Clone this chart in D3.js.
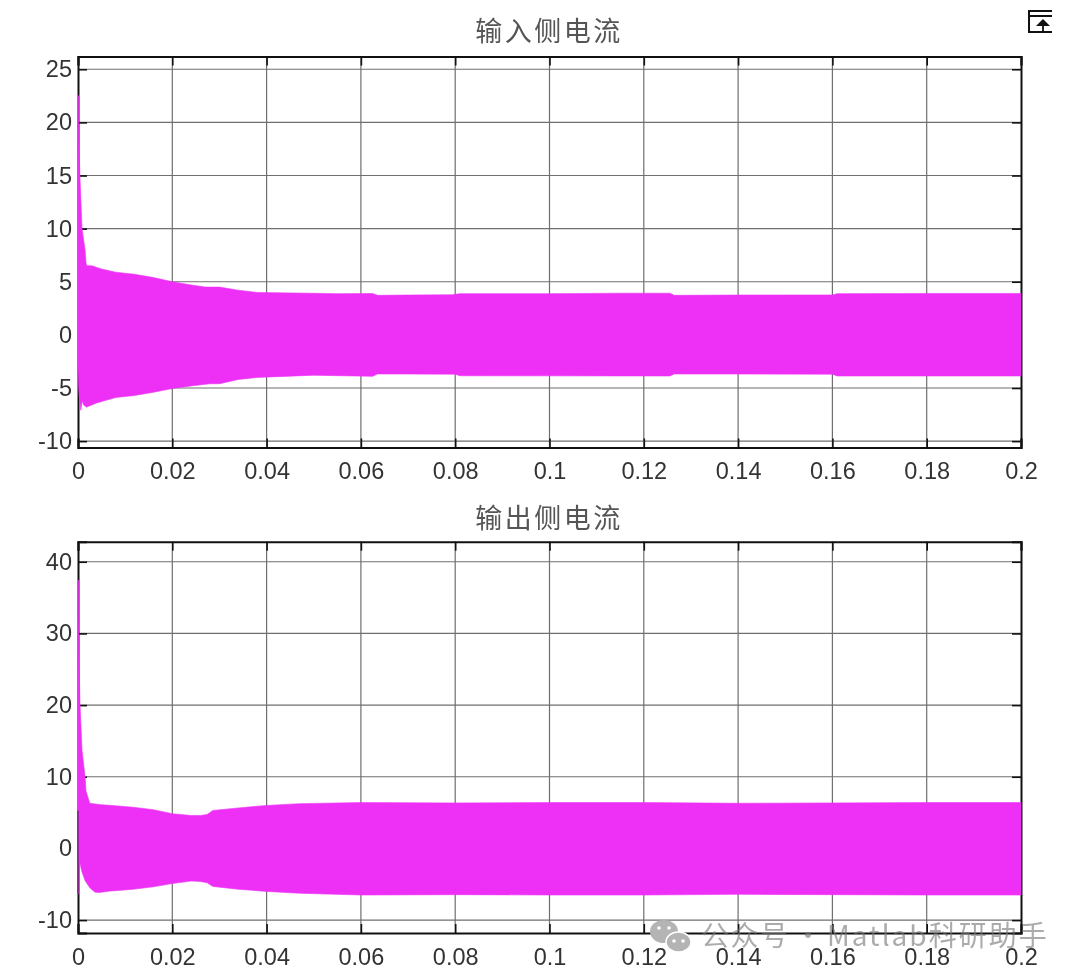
<!DOCTYPE html>
<html>
<head>
<meta charset="utf-8">
<script src="https://cdn.jsdelivr.net/npm/d3@7"></script>
<style>
html,body{margin:0;padding:0;background:#fff}
svg{display:block;filter:blur(0.7px)}
text{font-family:"Liberation Sans",Arial,sans-serif;fill:#333}
.cjk{font-family:"Noto Sans CJK SC","Noto Sans",sans-serif}
</style>
</head>
<body>
<svg id="c" width="1080" height="980"></svg>
<script>
// time axis tick values
const xTickValues = [0,0.02,0.04,0.06,0.08,0.1,0.12,0.14,0.16,0.18,0.2];
const xTickLabels = ["0","0.02","0.04","0.06","0.08","0.1","0.12","0.14","0.16","0.18","0.2"];

// Panel 1: input-side current envelope
const inputTitle = "输入侧电流";
const inputYTicks = [-10,-5,0,5,10,15,20,25];
const inputUpperT = [0,0.00012,0.0002,0.0004,0.00085,0.0015,0.0017,0.0019,0.003,0.005,0.008,0.012,0.016,0.02,0.024,0.027,0.0285,0.03,0.034,0.038,0.045,0.055,0.0625,0.0635,0.07,0.0795,0.081,0.1,0.115,0.1255,0.1265,0.14,0.16,0.161,0.18,0.2];
const inputUpperV = [22.5,22.5,18,15,10,8,6.8,6.5,6.5,6.2,5.9,5.7,5.4,5.0,4.7,4.5,4.5,4.5,4.2,4.0,3.95,3.88,3.9,3.72,3.75,3.78,3.88,3.88,3.92,3.92,3.72,3.75,3.76,3.88,3.9,3.9];
const inputLowerT = [0,0.0002,0.0006,0.0009,0.0012,0.0018,0.004,0.008,0.012,0.016,0.02,0.024,0.028,0.03,0.034,0.038,0.05,0.0625,0.0635,0.08,0.081,0.1255,0.1265,0.16,0.161,0.2];
const inputLowerV = [-3.2,-5.5,-7.1,-6.2,-6.6,-6.8,-6.4,-5.9,-5.7,-5.4,-5.05,-4.8,-4.6,-4.6,-4.2,-4.0,-3.8,-3.9,-3.68,-3.7,-3.85,-3.87,-3.68,-3.7,-3.87,-3.87];

// Panel 2: output-side current envelope
const outputTitle = "输出侧电流";
const outputYTicks = [-10,0,10,20,30,40];
const outputUpperT = [0,0.00012,0.0002,0.0004,0.00085,0.0015,0.0017,0.0025,0.005,0.008,0.0117,0.016,0.02,0.024,0.026,0.0274,0.0286,0.034,0.04,0.047,0.06,0.08,0.1,0.12,0.14,0.16,0.18,0.2];
const outputUpperV = [37.4,37.4,27,20.6,13.7,10,8,6.3,6.1,5.95,5.75,5.4,4.85,4.6,4.6,4.75,5.3,5.65,6.0,6.25,6.4,6.35,6.4,6.4,6.3,6.35,6.4,6.4];
const outputLowerT = [0,0.00012,0.0002,0.0004,0.0008,0.0015,0.0025,0.0036,0.0045,0.0068,0.0117,0.016,0.02,0.024,0.026,0.0274,0.0286,0.034,0.04,0.047,0.06,0.08,0.1,0.12,0.14,0.16,0.18,0.2];
const outputLowerV = [-6.3,-6.3,-1,-2,-3.2,-4.5,-5.5,-6.1,-6.15,-5.95,-5.7,-5.35,-4.9,-4.55,-4.6,-4.8,-5.3,-5.7,-6.0,-6.25,-6.5,-6.45,-6.5,-6.5,-6.4,-6.45,-6.5,-6.5];
// stretch of the left spine that shows through the band in panel 2
const outputSpineShow = [5.3,-6.3];

const bandColor = "#ee30f6";
const svg = d3.select("#c");
const x = d3.scaleLinear().domain([0,0.2]).range([78,1021]);

function merge(ut,uv,lt,lv){
  const all = Array.from(new Set([...ut,...lt])).sort(d3.ascending);
  const iu = d3.scaleLinear().domain(ut).range(uv);
  const il = d3.scaleLinear().domain(lt).range(lv);
  return all.map(t=>({t,u:iu(t),l:il(t)}));
}

function panel(cfg){
  const y = d3.scaleLinear().domain(cfg.domain).range(cfg.range);
  const g = svg.append("g");
  const top = cfg.range[1], bottom = cfg.range[0];

  // solid grey grid
  g.append("g").selectAll("line").data(xTickValues.slice(1,-1)).join("line")
    .attr("x1",d=>x(d)).attr("x2",d=>x(d)).attr("y1",top).attr("y2",bottom)
    .attr("stroke","#6f6f6f").attr("stroke-width",1.2);
  g.append("g").selectAll("line").data(cfg.ticks).join("line")
    .attr("x1",78).attr("x2",1021).attr("y1",d=>y(d)).attr("y2",d=>y(d))
    .attr("stroke","#6f6f6f").attr("stroke-width",1.2);

  // four-sided axes with inward ticks
  const fmt = d=>xTickLabels[xTickValues.indexOf(d)];
  const bx = g.append("g").attr("transform",`translate(0,${bottom})`)
    .call(d3.axisBottom(x).tickValues(xTickValues).tickFormat(fmt).tickSize(-9).tickPadding(15));
  const tx = g.append("g").attr("transform",`translate(0,${top})`)
    .call(d3.axisTop(x).tickValues(xTickValues).tickFormat("").tickSize(-9));
  const ly = g.append("g").attr("transform","translate(78,0)")
    .call(d3.axisLeft(y).tickValues(cfg.ticks).tickFormat(d=>String(d)).tickSize(-9).tickPadding(6));
  const ry = g.append("g").attr("transform","translate(1021,0)")
    .call(d3.axisRight(y).tickValues(cfg.ticks).tickFormat("").tickSize(-9));
  [bx,tx,ly,ry].forEach(a=>{
    a.selectAll(".domain").attr("stroke","#111").attr("stroke-width",2);
    a.selectAll(".tick line").attr("stroke","#111").attr("stroke-width",1.6);
    a.selectAll("text").style("font-family",'"Liberation Sans",Arial,sans-serif').attr("font-size",23.5).attr("fill","#333");
  });

  // envelope of the fast switching current
  const data = merge(cfg.ut,cfg.uv,cfg.lt,cfg.lv);
  const area = d3.area().x(d=>x(d.t)).y0(d=>y(d.l)).y1(d=>y(d.u));
  g.append("path").datum(data).attr("d",area).attr("fill",bandColor)
    .attr("stroke",bandColor).attr("stroke-width",0.6);

  if(cfg.spine){
    g.append("line").attr("x1",78).attr("x2",78).attr("y1",y(cfg.spine[0])).attr("y2",y(cfg.spine[1]))
      .attr("stroke","#222").attr("stroke-opacity",0.55).attr("stroke-width",1.6);
  }

  // title
  g.append("text").attr("class","cjk").attr("x",549).attr("y",cfg.titleY)
    .attr("text-anchor","middle").attr("font-size",27).attr("letter-spacing",2.5)
    .style("fill","#555").text(cfg.title);
}

panel({title:inputTitle,titleY:41,domain:[-10.6,26.2],range:[447.5,56.5],ticks:inputYTicks,
  ut:inputUpperT,uv:inputUpperV,lt:inputLowerT,lv:inputLowerV});
panel({title:outputTitle,titleY:528,domain:[-11.8,42.8],range:[933,541.7],ticks:outputYTicks,
  ut:outputUpperT,uv:outputUpperV,lt:outputLowerT,lv:outputLowerV,spine:outputSpineShow});

// small toolbar glyph, cropped on its right side as in the source
const ic = svg.append("g").attr("fill","none").attr("stroke","#111").attr("stroke-width",2);
ic.append("path").attr("d","M1052,11H1029V32H1052M1029,16H1052");
ic.append("path").attr("d","M1043,32V20").attr("stroke-width",1.8);
svg.append("path").attr("d","M1036,26L1043,19L1050,26Z").attr("fill","#111");

// watermark
const wm = svg.append("g");
const wmColor = "rgba(120,120,120,0.62)";
wm.append("ellipse").attr("cx",664).attr("cy",931.5).attr("rx",14).attr("ry",11.5).attr("fill","#b4b4b4");
wm.append("ellipse").attr("cx",678.5).attr("cy",942).attr("rx",12.5).attr("ry",10).attr("fill","#b4b4b4").attr("stroke","#fff").attr("stroke-width",1.5);
[[659,928],[669,928],[674,941],[683,941]].forEach(p=>wm.append("circle").attr("cx",p[0]).attr("cy",p[1]).attr("r",1.8).attr("fill","#fff"));
[["公众号",701,1.5],["·",794,0],["Matlab科研助手",827,2]].forEach(d=>{
  wm.append("text").attr("class","cjk").attr("x",d[1]).attr("y",946).attr("font-size",28)
    .attr("letter-spacing",d[2]).style("fill",wmColor).text(d[0]);
});
</script>
</body>
</html>
